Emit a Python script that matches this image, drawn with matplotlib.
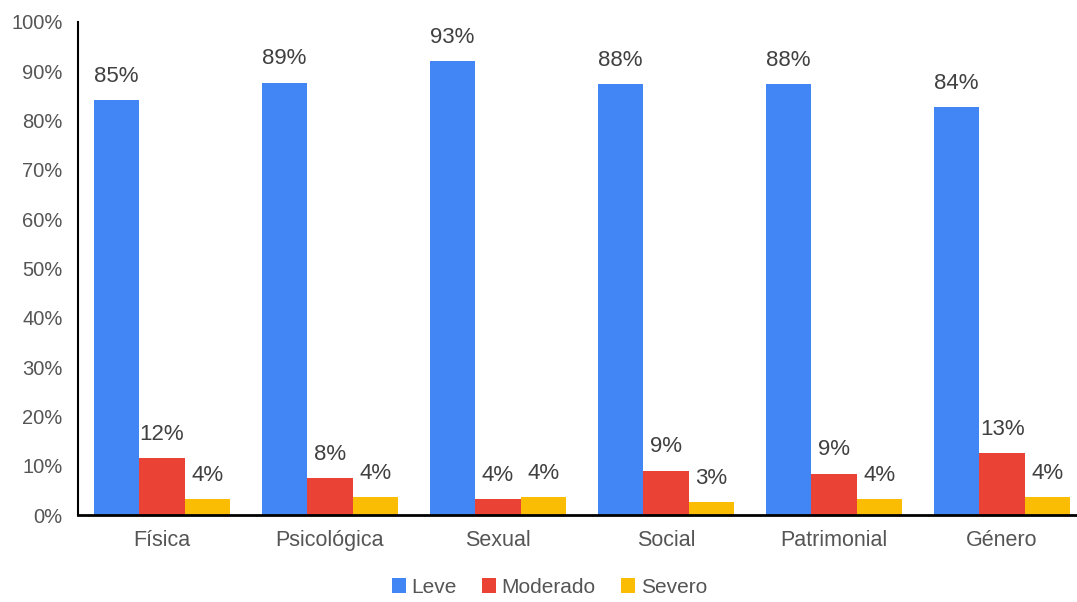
import numpy as np
import matplotlib.pyplot as plt

plt.rcParams['font.family'] = ['Liberation Sans', 'DejaVu Sans']

categorias = ["Física", "Psicológica", "Sexual", "Social", "Patrimonial", "Género"]
leve = [84.2, 87.7, 92.1, 87.4, 87.4, 82.8]
moderado = [11.6, 7.5, 3.3, 9.0, 8.4, 12.6]
severo = [3.3, 3.7, 3.7, 2.7, 3.3, 3.7]
leve_txt = ["85%", "89%", "93%", "88%", "88%", "84%"]
moderado_txt = ["12%", "8%", "4%", "9%", "9%", "13%"]
severo_txt = ["4%", "4%", "4%", "3%", "4%", "4%"]

series = [("Leve", leve, leve_txt, "#4285F4"),
          ("Moderado", moderado, moderado_txt, "#EA4335"),
          ("Severo", severo, severo_txt, "#FBBC04")]

fig = plt.figure(figsize=(10.77, 6.02), dpi=100)
ax = fig.add_axes([0.0724, 0.1445, 0.9276, 0.819])

x = np.arange(len(categorias))
w = 0.27
for i, (nombre, vals, txts, color) in enumerate(series):
    pos = x + (i - 1) * w
    ax.bar(pos, vals, w, color=color, label=nombre)
    for p, v, t in zip(pos, vals, txts):
        ax.annotate(t, (p, v), xytext=(0, 9.5), textcoords="offset points",
                    ha="center", va="bottom", fontsize=16, color="#404040")

ax.set_xlim(-0.5, 5.446)
ax.set_ylim(0, 100)
ax.set_yticks(np.arange(0, 101, 10))
ax.set_yticklabels([f"{v}%" for v in range(0, 101, 10)])
ax.set_xticks(x)
ax.set_xticklabels(categorias)
ax.tick_params(axis="both", length=0, labelcolor="#555555")
ax.tick_params(axis="x", pad=11, labelsize=15.5)
ax.tick_params(axis="y", pad=11, labelsize=14.5)

ax.spines["top"].set_visible(False)
ax.spines["right"].set_visible(False)
ax.spines["left"].set_linewidth(1.5)
ax.spines["bottom"].set_linewidth(2)

leg = fig.legend(loc="center", bbox_to_anchor=(0.51, 0.024), ncol=3, frameon=False,
                 fontsize=15, handlelength=0.7, handleheight=0.7, handletextpad=0.25,
                 columnspacing=1.2)
for t in leg.get_texts():
    t.set_color("#555555")

fig.savefig("out.png", dpi=100)
